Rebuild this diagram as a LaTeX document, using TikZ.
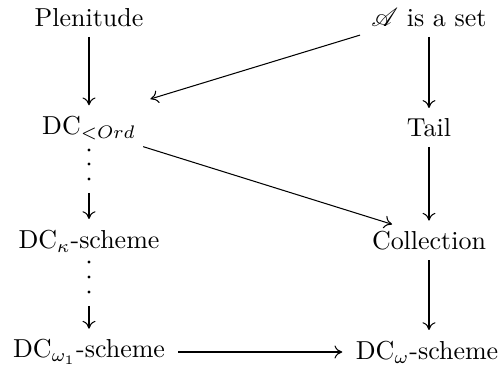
\documentclass[tikz,border=0pt]{standalone}
\usepackage{mathrsfs}
\usetikzlibrary{arrows.meta}
\begin{document}
\begin{tikzpicture}[x=0.385pt,y=-0.385pt,
  lbl/.style={inner sep=2pt},
  arr/.style={-{To[length=3pt,width=5pt]}, line width=0.4pt, shorten <=1.5pt, shorten >=2pt},
  dot/.style={circle, fill=black, inner sep=0pt, minimum size=1.2pt}]
\useasboundingbox (0,0) rectangle (503,368);
\node[lbl] (P) at (89,18) {Plenitude};
\node[lbl] (A) at (429,18) {$\mathscr{A}$ is a set};
\node[lbl] (D) at (89,128) {DC$_{<Ord}$};
\node[lbl] (T) at (429,128) {Tail};
\node[lbl] (K) at (89,241) {DC$_\kappa$-scheme};
\node[lbl] (C) at (429,241) {Collection};
\node[lbl] (W1) at (89,352) {DC$_{\omega_1}$-scheme};
\node[lbl] (W) at (427,352) {DC$_\omega$-scheme};
% dotted continuations
\node[dot] (d11) at (89,150) {};
\node[dot] (d12) at (89,164) {};
\node[dot] (d13) at (89,179) {};
\coordinate (s1) at (89,189);
\node[dot] (d21) at (89,262) {};
\node[dot] (d22) at (89,277) {};
\node[dot] (d23) at (89,292) {};
\coordinate (s2) at (89,302);
% arrows
\draw[arr] (P) -- (D);
\draw[arr] ([shift={(-2,1)}]A.south west) -- ([shift={(4,-10)}]D.north east);
\draw[arr] (A) -- (T);
\draw[arr] ([shift={(-2,0)}]D.south east) -- ([shift={(-32,0)}]C.north);
\draw[arr] (T) -- (C);
\draw[arr] (C) -- (C |- W.north);
\draw[arr] (s1) -- (K);
\draw[arr] (s2) -- (W1);
\draw[arr, shorten <=3pt, shorten >=3pt] (W1) -- (W);
\end{tikzpicture}
\end{document}
